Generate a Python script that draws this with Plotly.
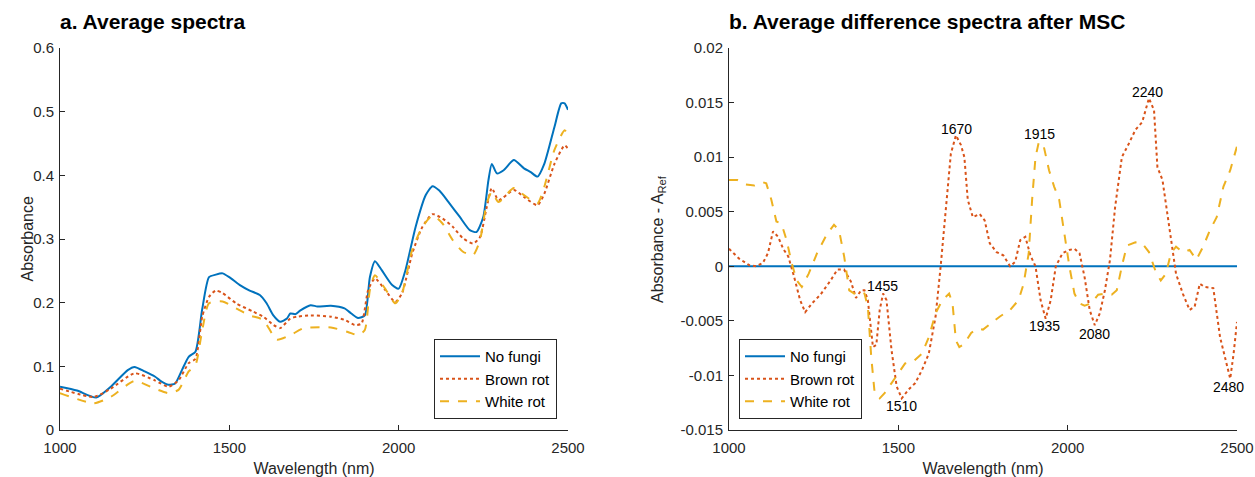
import plotly.graph_objects as go

# ---------------- Panel a: average spectra ----------------
wl_nofungi = [1000,1050,1107,1150,1200,1220,1250,1280,1300,1320,1340,1360,1380,1400,1420,1440,1460,1480,1500,1530,1560,1590,1610,1630,1650,1670,1680,1695,1710,1740,1760,1800,1840,1860,1880,1900,1915,1930,1950,1980,2000,2020,2050,2080,2100,2120,2150,2180,2210,2230,2250,2265,2275,2290,2310,2340,2370,2390,2410,2430,2460,2480,2490,2500]
a_nofungi = [0.068,0.062,0.051,0.068,0.094,0.099,0.092,0.084,0.076,0.071,0.073,0.094,0.115,0.123,0.19,0.24,0.244,0.246,0.24,0.228,0.219,0.212,0.199,0.18,0.17,0.175,0.183,0.182,0.188,0.196,0.194,0.195,0.191,0.183,0.176,0.18,0.24,0.265,0.251,0.228,0.222,0.251,0.319,0.369,0.383,0.376,0.356,0.335,0.314,0.311,0.335,0.392,0.418,0.403,0.408,0.424,0.411,0.405,0.398,0.418,0.476,0.513,0.513,0.503]

wl_brown = [1000,1100,1150,1220,1280,1320,1350,1380,1400,1420,1440,1460,1480,1520,1570,1600,1630,1650,1680,1700,1740,1800,1840,1870,1890,1910,1930,1960,1990,2010,2040,2070,2100,2130,2160,2190,2220,2240,2260,2275,2295,2340,2370,2410,2430,2460,2490,2500]
a_brown = [0.065,0.052,0.065,0.089,0.078,0.068,0.078,0.105,0.112,0.178,0.209,0.219,0.215,0.199,0.186,0.178,0.165,0.16,0.175,0.178,0.18,0.178,0.173,0.165,0.167,0.22,0.238,0.22,0.201,0.215,0.277,0.319,0.339,0.332,0.319,0.301,0.293,0.303,0.35,0.38,0.361,0.377,0.366,0.353,0.371,0.418,0.447,0.442]

wl_white = [1000,1100,1150,1220,1280,1320,1350,1380,1400,1420,1440,1480,1520,1560,1600,1640,1680,1720,1800,1850,1880,1900,1915,1930,1960,1990,2010,2040,2070,2100,2130,2160,2190,2220,2240,2260,2275,2295,2340,2370,2410,2430,2460,2490,2500]
a_white = [0.058,0.042,0.052,0.077,0.065,0.058,0.063,0.092,0.102,0.157,0.199,0.202,0.191,0.18,0.173,0.142,0.149,0.16,0.161,0.154,0.149,0.157,0.22,0.243,0.222,0.199,0.215,0.283,0.319,0.337,0.324,0.298,0.28,0.275,0.298,0.356,0.374,0.358,0.38,0.369,0.356,0.382,0.44,0.471,0.463]

# ---------------- Panel b: difference spectra after MSC ----------------
wl_d_brown = [1000,1030,1060,1080,1100,1115,1130,1145,1160,1175,1190,1210,1225,1245,1270,1300,1320,1340,1360,1375,1390,1400,1410,1425,1435,1445,1455,1465,1480,1495,1510,1530,1550,1570,1590,1610,1625,1640,1655,1670,1685,1695,1705,1720,1740,1755,1770,1790,1810,1830,1845,1860,1875,1890,1905,1920,1935,1950,1965,1985,2005,2020,2035,2050,2065,2080,2095,2110,2125,2140,2160,2180,2200,2220,2240,2255,2265,2280,2300,2320,2340,2360,2375,2390,2405,2430,2450,2470,2480,2490,2500]
d_brown = [0.0016,0.0007,0.0001,0.0,0.0003,0.0012,0.0032,0.0027,0.0016,0.0009,-0.0007,-0.0031,-0.0042,-0.0034,-0.0026,-0.0013,-0.0003,-0.0003,-0.0014,-0.0029,-0.0022,-0.0022,-0.0031,-0.0074,-0.0072,-0.004,-0.0025,-0.0031,-0.0077,-0.011,-0.0121,-0.0113,-0.0107,-0.0095,-0.008,-0.0046,0.0,0.0054,0.0103,0.012,0.0111,0.01,0.0061,0.0045,0.0048,0.0042,0.0021,0.0013,0.001,0.0,0.0004,0.0024,0.0027,0.001,0.0,-0.0031,-0.0048,-0.0031,0.0,0.0012,0.0015,0.0016,0.0012,-0.001,-0.004,-0.0054,-0.0043,-0.0022,0.0006,0.0054,0.01,0.0112,0.0125,0.0132,0.0154,0.0143,0.0091,0.0079,0.0036,-0.0007,-0.0025,-0.004,-0.0037,-0.0016,-0.0019,-0.002,-0.0065,-0.0089,-0.0103,-0.008,-0.0051]

wl_d_white = [1000,1025,1050,1075,1100,1110,1125,1140,1155,1170,1185,1200,1215,1235,1260,1290,1310,1325,1340,1355,1370,1385,1400,1410,1420,1430,1445,1460,1480,1500,1520,1545,1570,1590,1610,1630,1650,1660,1670,1680,1695,1715,1735,1750,1775,1800,1830,1855,1870,1885,1895,1905,1915,1930,1945,1960,1975,1990,2005,2020,2035,2050,2070,2090,2110,2130,2145,2160,2175,2200,2220,2240,2260,2275,2290,2305,2320,2340,2360,2380,2400,2420,2440,2460,2480,2500]
d_white = [0.0079,0.0079,0.0075,0.0074,0.0077,0.0076,0.0061,0.0041,0.0039,0.0024,0.0003,-0.0013,-0.0019,-0.0007,0.0012,0.003,0.0038,0.0033,0.0009,-0.0022,-0.0025,-0.0023,-0.0025,-0.0037,-0.0083,-0.0116,-0.0121,-0.0116,-0.0107,-0.0098,-0.0089,-0.0087,-0.008,-0.0065,-0.0043,-0.0031,-0.0025,-0.0034,-0.0068,-0.0074,-0.0071,-0.0061,-0.0057,-0.0058,-0.0052,-0.0046,-0.004,-0.0031,-0.0016,0.0012,0.0061,0.01,0.0114,0.0109,0.0088,0.0073,0.0061,0.003,0.0,-0.0025,-0.0034,-0.0036,-0.0034,-0.0026,-0.0025,-0.0026,-0.0022,0.0,0.0019,0.0022,0.0021,0.0013,-0.0005,-0.0013,-0.0007,0.0012,0.0018,0.0013,0.0015,0.0006,0.0018,0.0033,0.0045,0.0073,0.0088,0.011]

wl_d_nofungi = [1000, 2500]
d_nofungi = [0.0, 0.0]

peak_labels = ["1455", "1510", "1670", "1915", "1935", "2080", "2240", "2480"]
peak_x = [1454, 1508, 1672, 1917, 1932, 2078, 2237, 2476]
peak_y = [-0.0018, -0.0128, 0.0126, 0.0121, -0.0055, -0.0062, 0.016, -0.0111]

yticks_b = [-0.015, -0.01, -0.005, 0, 0.005, 0.01, 0.015, 0.02]
yticks_b_text = ["-0.015", "-0.01", "-0.005", "0", "0.005", "0.01", "0.015", "0.02"]
yticks_a = [0, 0.1, 0.2, 0.3, 0.4, 0.5, 0.6]
yticks_a_text = ["0", "0.1", "0.2", "0.3", "0.4", "0.5", "0.6"]
xticks = [1000, 1500, 2000, 2500]

BLUE, ORANGE, YELLOW = "#0072BD", "#D95319", "#EDB120"
FONT = "Liberation Sans, Arial, sans-serif"
AX = "#262626"

fig = go.Figure()
# panel a
fig.add_trace(go.Scatter(x=wl_nofungi, y=a_nofungi, name="No fungi", mode="lines",
                         line=dict(color=BLUE, width=2, shape="spline", smoothing=0.6),
                         xaxis="x", yaxis="y", legend="legend"))
fig.add_trace(go.Scatter(x=wl_brown, y=a_brown, name="Brown rot", mode="lines",
                         line=dict(color=ORANGE, width=2, dash="dot", shape="spline", smoothing=0.6),
                         xaxis="x", yaxis="y", legend="legend"))
fig.add_trace(go.Scatter(x=wl_white, y=a_white, name="White rot", mode="lines",
                         line=dict(color=YELLOW, width=2, dash="dash", shape="spline", smoothing=0.6),
                         xaxis="x", yaxis="y", legend="legend"))
# panel b
fig.add_trace(go.Scatter(x=wl_d_nofungi, y=d_nofungi, name="No fungi", mode="lines",
                         line=dict(color=BLUE, width=2),
                         xaxis="x2", yaxis="y2", legend="legend2"))
fig.add_trace(go.Scatter(x=wl_d_brown, y=d_brown, name="Brown rot", mode="lines",
                         line=dict(color=ORANGE, width=2, dash="dot"),
                         xaxis="x2", yaxis="y2", legend="legend2"))
fig.add_trace(go.Scatter(x=wl_d_white, y=d_white, name="White rot", mode="lines",
                         line=dict(color=YELLOW, width=2, dash="dash"),
                         xaxis="x2", yaxis="y2", legend="legend2"))

for t, x, y in zip(peak_labels, peak_x, peak_y):
    fig.add_annotation(x=x, y=y, xref="x2", yref="y2", text=t, showarrow=False,
                       font=dict(family=FONT, size=14, color="#000000"))

axis_common = dict(showline=True, linecolor=AX, linewidth=1, ticks="inside",
                   ticklen=5, tickcolor=AX, showgrid=False, zeroline=False,
                   tickfont=dict(family=FONT, size=15, color=AX),
                   mirror=False, automargin=False)

fig.update_layout(
    width=1255, height=477,
    margin=dict(l=0, r=0, t=0, b=0),
    paper_bgcolor="white", plot_bgcolor="white",
    font=dict(family=FONT, color=AX),
    showlegend=True,
    xaxis=dict(domain=[60/1255, 568/1255], range=[1000, 2500], tickvals=xticks, ticklabelstandoff=4,
               anchor="y", title=dict(text="Wavelength (nm)", font=dict(size=16)), **axis_common),
    yaxis=dict(domain=[1-430/477, 1-48/477], range=[0, 0.6], tickvals=yticks_a, ticktext=yticks_a_text,
               ticklabelstandoff=2, anchor="x", **axis_common),
    xaxis2=dict(domain=[729/1255, 1237/1255], range=[1000, 2500], tickvals=xticks, ticklabelstandoff=4,
                anchor="y2", title=dict(text="Wavelength (nm)", font=dict(size=16)), **axis_common),
    yaxis2=dict(domain=[1-430/477, 1-48/477], range=[-0.015, 0.02], tickvals=yticks_b, ticktext=yticks_b_text,
                ticklabelstandoff=2, anchor="x2", **axis_common),
    legend=dict(x=557/1255, y=1-419/477, xanchor="right", yanchor="bottom", bgcolor="white",
                bordercolor=AX, borderwidth=1, font=dict(family=FONT, size=15, color="#000000"),
                tracegroupgap=0, itemwidth=40),
    legend2=dict(x=739/1255, y=1-419/477, xanchor="left", yanchor="bottom", bgcolor="white",
                 bordercolor=AX, borderwidth=1, font=dict(family=FONT, size=15, color="#000000"),
                 tracegroupgap=0, itemwidth=40),
)

# y-axis titles
fig.add_annotation(text="Absorbance", xref="paper", yref="paper", x=17/1255, y=1-239/477,
                   textangle=-90, showarrow=False, font=dict(family=FONT, size=16, color=AX))
fig.add_annotation(text="Absorbance - A<sub>Ref</sub>", xref="paper", yref="paper", x=659/1255, y=1-239/477,
                   textangle=-90, showarrow=False, font=dict(family=FONT, size=16, color=AX))

# panel titles
fig.add_annotation(text="<b>a. Average spectra</b>", xref="paper", yref="paper", x=60/1255, y=1-8/477,
                   xanchor="left", yanchor="top", showarrow=False, xshift=-2,
                   font=dict(family=FONT, size=21, color="#000000"))
fig.add_annotation(text="<b>b. Average difference spectra after MSC</b>", xref="paper", yref="paper",
                   x=729/1255, y=1-8/477, xanchor="left", yanchor="top", showarrow=False, xshift=-2,
                   font=dict(family=FONT, size=21, color="#000000"))

fig.write_html("out.html")
